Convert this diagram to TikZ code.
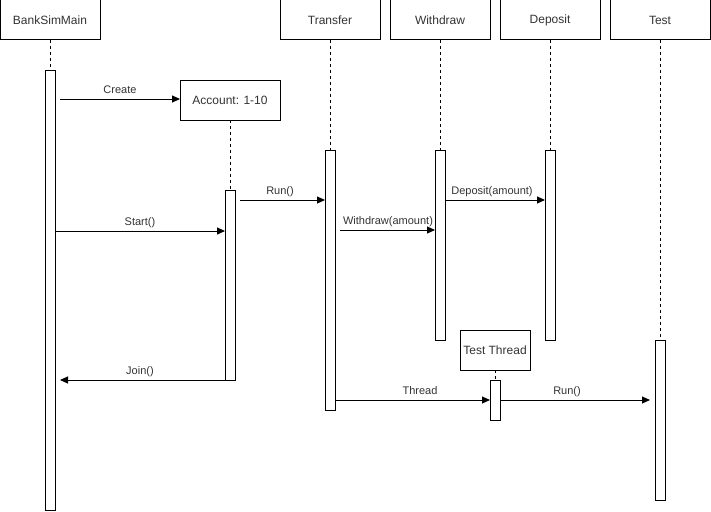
\documentclass[tikz,border=0pt]{standalone}
\usepackage{fontspec}
\setmainfont{Liberation Sans}
\usetikzlibrary{arrows.meta}
\begin{document}
\begin{tikzpicture}[x=1pt,y=-1pt,
  every node/.style={inner sep=0pt,outer sep=0pt},
  header/.style={draw,line width=1pt,fill=white,minimum width=100pt,minimum height=40pt,font=\fontsize{12}{14}\selectfont,text=black!80},
  actbar/.style={draw,line width=1pt,fill=white,minimum width=10pt},
  life/.style={line width=1pt,dash pattern=on 3pt off 3pt},
  msg/.style={line width=1pt,-{Triangle[length=8pt,width=7pt]}},
  lbl/.style={font=\fontsize{11}{13}\selectfont,text=black!80,anchor=base}]
\useasboundingbox (0,0) rectangle (711,511);

% lifeline heads
\node[header] (bsm) at (50,20) {BankSimMain};
\node[header] (tr)  at (330,20) {Transfer};
\node[header] (wd)  at (440,20) {Withdraw};
\node[header] (dp)  at (550,20) {Deposit};
\node[header] (ts)  at (660,20) {Test};
\node[header] (acc) at (230,100) {Account: 1-10};
\node[header,minimum width=70pt] (tt) at (495,350) {Test Thread};

% activation bars
\node[actbar,minimum height=440pt] (bsmA) at (50,290) {};
\node[actbar,minimum height=190pt] (accA) at (230,285) {};
\node[actbar,minimum height=260pt] (trA)  at (330,280) {};
\node[actbar,minimum height=190pt] (wdA)  at (440,245) {};
\node[actbar,minimum height=190pt] (dpA)  at (550,245) {};
\node[actbar,minimum height=160pt] (tsA)  at (660,420) {};
\node[actbar,minimum height=40pt]  (ttA)  at (495,400) {};

% dashed lifelines
\draw[life] (bsm.south) -- (bsmA.north);
\draw[life] (acc.south) -- (accA.north);
\draw[life] (tr.south) -- (trA.north);
\draw[life] (wd.south) -- (wdA.north);
\draw[life] (dp.south) -- (dpA.north);
\draw[life] (ts.south) -- (tsA.north);
\draw[life] (tt.south) -- (ttA.north);

% message end points
\coordinate (cS) at (60,99);
\coordinate (sS) at (55,231);
\coordinate (sE) at (225,231);
\coordinate (r1S) at (240,200);
\coordinate (r1E) at (325,200);
\coordinate (wS) at (340,230);
\coordinate (wE) at (435,230);
\coordinate (dS) at (445,200);
\coordinate (dE) at (545,200);
\coordinate (jS) at (235,380);
\coordinate (jE) at (60,380);
\coordinate (thS) at (335,400);
\coordinate (thE) at (490,400);
\coordinate (r2S) at (500,400);
\coordinate (r2E) at (650,400);

% messages
\draw[msg] (cS) -- (acc.west |- cS);
\node[lbl] (cL) at (120,93) {Create};
\draw[msg] (sS) -- (sE);
\node[lbl] (sL) at (140,225) {Start()};
\draw[msg] (r1S) -- (r1E);
\node[lbl] (r1L) at (280,194) {Run()};
\draw[msg] (wS) -- (wE);
\node[lbl] (wL) at (388,224) {Withdraw(amount)};
\draw[msg] (dS) -- (dE);
\node[lbl] (dL) at (492,194) {Deposit(amount)};
\draw[msg] (jS) -- (jE);
\node[lbl] (jL) at (140,374) {Join()};
\draw[msg] (thS) -- (thE);
\node[lbl] (thL) at (420,394) {Thread};
\draw[msg] (r2S) -- (r2E);
\node[lbl] (r2L) at (567,394) {Run()};
\end{tikzpicture}
\end{document}
